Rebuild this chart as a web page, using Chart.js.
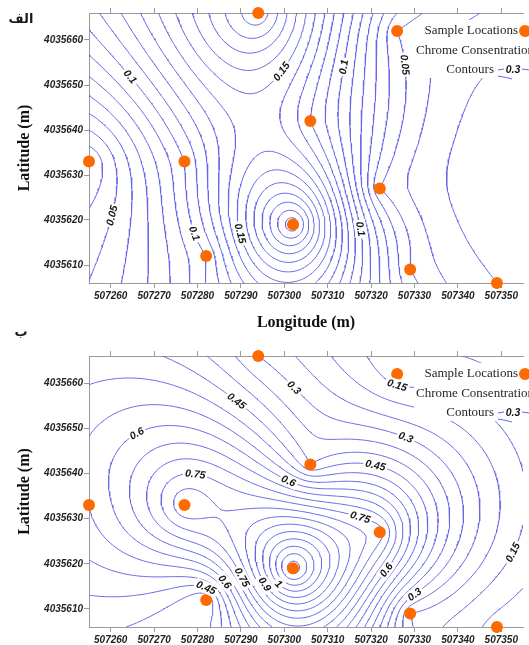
<!DOCTYPE html>
<html>
<head>
<meta charset="utf-8">
<script src="https://cdn.jsdelivr.net/npm/chart.js@4.4.1/dist/chart.umd.min.js"></script>
<style>
  html, body { margin: 0; padding: 0; background: #fff; }
  body { width: 529px; height: 645px; position: relative; overflow: hidden; }
  canvas { position: absolute; left: 0; }
  #chartA { top: 0; }
  #chartB { top: 320px; }
</style>
</head>
<body>
<canvas id="chartA" width="529" height="335"></canvas>
<canvas id="chartB" width="529" height="325"></canvas>
<script>
// sample locations (UTM, metres)
const sampleX = [507294, 507326, 507306, 507255, 507277, 507322, 507302, 507282, 507329, 507349];
const sampleY = [4035666, 4035662, 4035642, 4035633, 4035633, 4035627, 4035619, 4035612, 4035609, 4035606];

// chrome concentration at each sample, panel "الف" and panel "ب"
const chromeA = [0.2, 0.05, 0.12, 0.03, 0.1, 0.05, 0.22, 0.1, 0.05, 0.03];
const chromeB = [0.3, 0.12, 0.4, 0.55, 0.85, 0.78, 1.2, 0.35, 0.2, 0.08];

// contour levels
const levelsA = [0.02, 0.03, 0.04, 0.05, 0.06, 0.07, 0.08, 0.09, 0.1, 0.11, 0.12, 0.13,
  0.14, 0.15, 0.16, 0.17, 0.18, 0.19, 0.2, 0.21, 0.22, 0.23, 0.24, 0.25];
const levelsB = [0.05, 0.1, 0.15, 0.2, 0.25, 0.3, 0.35, 0.4, 0.45, 0.5, 0.55, 0.6, 0.65,
  0.7, 0.75, 0.8, 0.85, 0.9, 0.95, 1, 1.05, 1.1, 1.15, 1.2, 1.25, 1.3];

// labelled contours (text + rough place on the map)
const labelsA = [
  { text: "0.1", x: 507265.9, y: 4035652.9 },
  { text: "0.15", x: 507297.3, y: 4035654.4 },
  { text: "0.1", x: 507311.1, y: 4035654.4 },
  { text: "0.05", x: 507325, y: 4035654 },
  { text: "0.05", x: 507263.9, y: 4035620 },
  { text: "0.1", x: 507279.5, y: 4035617.3 },
  { text: "0.15", x: 507291, y: 4035617.3 },
  { text: "0.1", x: 507312.5, y: 4035617.1 },
];
const labelsB = [
  { text: "0.45", x: 507287.7, y: 4035654.4 },
  { text: "0.3", x: 507298, y: 4035655.1 },
  { text: "0.15", x: 507325, y: 4035656.7 },
  { text: "0.6", x: 507265.7, y: 4035648.9 },
  { text: "0.75", x: 507279.7, y: 4035640 },
  { text: "0.3", x: 507326.7, y: 4035644.7 },
  { text: "0.45", x: 507320.3, y: 4035638.4 },
  { text: "0.6", x: 507299.5, y: 4035635.1 },
  { text: "0.45", x: 507282.4, y: 4035616.2 },
  { text: "0.6", x: 507287.7, y: 4035617.1 },
  { text: "0.75", x: 507292, y: 4035617.8 },
  { text: "0.9", x: 507296.5, y: 4035615.8 },
  { text: "1", x: 507299, y: 4035615.6 },
  { text: "0.75", x: 507317, y: 4035628.9 },
  { text: "0.6", x: 507323, y: 4035619.1 },
  { text: "0.3", x: 507328.4, y: 4035615.1 },
  { text: "0.15", x: 507348.7, y: 4035624.7 },
];

const xTicks = [507260, 507270, 507280, 507290, 507300, 507310, 507320, 507330, 507340, 507350];
const yTicks = [4035610, 4035620, 4035630, 4035640, 4035650, 4035660];

const X_MIN = 507255, X_MAX = 507355, Y_MIN = 4035606, Y_MAX = 4035666;
const LINE_BLUE = "rgb(104,104,232)";
const ORANGE = "#ff6a00";
const AXIS_GREY = "#9a9a9a";

// ordinary kriging, linear variogram (surfer default)
function fitField(xs, ys, zs) {
  const n = xs.length, m = n + 1;
  const A = [];
  for (let i = 0; i < m; i++) A.push(new Array(m + 1).fill(0));
  for (let i = 0; i < n; i++) {
    for (let j = 0; j < n; j++) A[i][j] = Math.hypot(xs[i] - xs[j], ys[i] - ys[j]);
    A[i][n] = 1;
    A[n][i] = 1;
    A[i][m] = zs[i];
  }
  for (let c = 0; c < m; c++) {
    let p = c;
    for (let r = c + 1; r < m; r++) if (Math.abs(A[r][c]) > Math.abs(A[p][c])) p = r;
    [A[c], A[p]] = [A[p], A[c]];
    for (let r = 0; r < m; r++) {
      if (r === c) continue;
      const f = A[r][c] / A[c][c];
      for (let k = c; k <= m; k++) A[r][k] -= f * A[c][k];
    }
  }
  const w = A.map((row, i) => row[m] / row[i]);
  return (x, y) => {
    let s = w[n];
    for (let i = 0; i < n; i++) s += w[i] * Math.hypot(x - xs[i], y - ys[i]);
    return s;
  };
}

const NX = 201, NY = 121;
const DX = (X_MAX - X_MIN) / (NX - 1), DY = (Y_MAX - Y_MIN) / (NY - 1);

function buildGrid(values) {
  const f = fitField(sampleX, sampleY, values);
  const g = new Float64Array(NX * NY);
  for (let j = 0; j < NY; j++)
    for (let i = 0; i < NX; i++) g[j * NX + i] = f(X_MIN + i * DX, Y_MIN + j * DY);
  return g;
}

// marching squares, segments chained into polylines
function contour(g, level) {
  const pt = {};
  const segs = [];
  function edge(type, i, j) {
    const key = type + i + "_" + j;
    if (!(key in pt)) {
      let a, b, xa, ya, xb, yb;
      if (type === "h") {
        a = g[j * NX + i]; b = g[j * NX + i + 1];
        xa = X_MIN + i * DX; xb = xa + DX; ya = yb = Y_MIN + j * DY;
      } else {
        a = g[j * NX + i]; b = g[(j + 1) * NX + i];
        xa = xb = X_MIN + i * DX; ya = Y_MIN + j * DY; yb = ya + DY;
      }
      const t = (level - a) / (b - a);
      pt[key] = [xa + t * (xb - xa), ya + t * (yb - ya)];
    }
    return key;
  }
  for (let j = 0; j < NY - 1; j++) {
    for (let i = 0; i < NX - 1; i++) {
      const bl = g[j * NX + i], br = g[j * NX + i + 1];
      const tr = g[(j + 1) * NX + i + 1], tl = g[(j + 1) * NX + i];
      let c = 0;
      if (bl > level) c |= 1;
      if (br > level) c |= 2;
      if (tr > level) c |= 4;
      if (tl > level) c |= 8;
      if (c === 0 || c === 15) continue;
      const B = () => edge("h", i, j), T = () => edge("h", i, j + 1);
      const L = () => edge("v", i, j), R = () => edge("v", i + 1, j);
      const mid = (bl + br + tr + tl) / 4 > level;
      switch (c) {
        case 1: case 14: segs.push([L(), B()]); break;
        case 2: case 13: segs.push([B(), R()]); break;
        case 3: case 12: segs.push([L(), R()]); break;
        case 4: case 11: segs.push([R(), T()]); break;
        case 6: case 9: segs.push([B(), T()]); break;
        case 7: case 8: segs.push([L(), T()]); break;
        case 5:
          if (mid) { segs.push([L(), T()]); segs.push([B(), R()]); }
          else { segs.push([L(), B()]); segs.push([R(), T()]); }
          break;
        case 10:
          if (mid) { segs.push([L(), B()]); segs.push([R(), T()]); }
          else { segs.push([L(), T()]); segs.push([B(), R()]); }
          break;
      }
    }
  }
  const byKey = {};
  segs.forEach((s, k) => {
    (byKey[s[0]] = byKey[s[0]] || []).push(k);
    (byKey[s[1]] = byKey[s[1]] || []).push(k);
  });
  const used = new Array(segs.length).fill(false);
  const lines = [];
  function extend(chain) {
    for (;;) {
      const last = chain[chain.length - 1];
      const next = (byKey[last] || []).find((k) => !used[k]);
      if (next === undefined) break;
      used[next] = true;
      const s = segs[next];
      chain.push(s[0] === last ? s[1] : s[0]);
    }
  }
  for (let k = 0; k < segs.length; k++) {
    if (used[k]) continue;
    used[k] = true;
    const chain = [segs[k][0], segs[k][1]];
    extend(chain);
    chain.reverse();
    extend(chain);
    lines.push(chain.map((key) => pt[key]));
  }
  return lines;
}

function overlayPlugin(labels, linesByLevel, levels, panelText, panelY) {
  return {
    id: "overlay",
    afterDatasetsDraw(chart) {
      const { ctx, chartArea } = chart;
      const sx = chart.scales.x, sy = chart.scales.y;
      ctx.save();
      // contour labels
      ctx.font = 'italic bold 10.5px "Liberation Sans", Arial, sans-serif';
      ctx.textAlign = "center";
      ctx.textBaseline = "middle";
      labels.forEach((lab) => {
        const v = parseFloat(lab.text);
        const li = levels.findIndex((l) => Math.abs(l - v) < 1e-9);
        if (li < 0) return;
        const ax = sx.getPixelForValue(lab.x), ay = sy.getPixelForValue(lab.y);
        let best = null, bd = Infinity;
        linesByLevel[li].forEach((line) => {
          line.forEach((p, idx) => {
            const px = sx.getPixelForValue(p[0]), py = sy.getPixelForValue(p[1]);
            const d = (px - ax) ** 2 + (py - ay) ** 2;
            if (d < bd) { bd = d; best = { line, idx, px, py }; }
          });
        });
        if (!best || bd > 900) return;
        const a = best.line[Math.max(0, best.idx - 4)];
        const b = best.line[Math.min(best.line.length - 1, best.idx + 4)];
        let ang = Math.atan2(sy.getPixelForValue(b[1]) - sy.getPixelForValue(a[1]),
          sx.getPixelForValue(b[0]) - sx.getPixelForValue(a[0]));
        if (ang > Math.PI / 2) ang -= Math.PI;
        if (ang < -Math.PI / 2) ang += Math.PI;
        const w = ctx.measureText(lab.text).width;
        ctx.save();
        ctx.translate(best.px, best.py);
        ctx.rotate(ang);
        ctx.fillStyle = "#fff";
        ctx.fillRect(-w / 2 - 2, -6, w + 4, 12);
        ctx.fillStyle = "#151515";
        ctx.fillText(lab.text, 0, 0.5);
        ctx.restore();
      });

      // legend block, top right
      const top = chartArea.top;
      ctx.fillStyle = "#fff";
      ctx.fillRect(414, top + 7, 115, 58);
      ctx.fillStyle = "#262626";
      ctx.font = '13px "Liberation Serif", "Times New Roman", serif';
      ctx.textBaseline = "middle";
      ctx.textAlign = "right";
      ctx.fillText("Sample Locations", 518, top + 18);
      ctx.textAlign = "left";
      ctx.fillText("Chrome Consentration", 416, top + 38);
      ctx.textAlign = "right";
      ctx.fillText("Contours", 494, top + 57);
      ctx.fillStyle = ORANGE;
      ctx.beginPath();
      ctx.arc(525, top + 18, 6, 0, Math.PI * 2);
      ctx.fill();
      ctx.strokeStyle = LINE_BLUE;
      ctx.lineWidth = 1;
      ctx.beginPath();
      ctx.moveTo(498, top + 57); ctx.lineTo(504, top + 56);
      ctx.moveTo(522, top + 56); ctx.lineTo(529, top + 57);
      ctx.moveTo(498, top + 63); ctx.quadraticCurveTo(505, top + 64, 512, top + 66);
      ctx.stroke();
      ctx.fillStyle = "#151515";
      ctx.font = 'italic bold 10.5px "Liberation Sans", Arial, sans-serif';
      ctx.textAlign = "center";
      ctx.fillText("0.3", 513, top + 57);

      // panel letter
      ctx.fillStyle = "#1a1a1a";
      ctx.font = 'bold 13px "DejaVu Sans", sans-serif';
      ctx.textAlign = "center";
      ctx.fillText(panelText, 21, panelY);
      ctx.restore();
    },
  };
}

function makeChart(id, values, levels, labels, topGap, bottomGap, showXTitle, panelText, panelY) {
  const grid = buildGrid(values);
  const linesByLevel = levels.map((l) => contour(grid, l));
  const datasets = [{
    data: sampleX.map((x, i) => ({ x, y: sampleY[i] })),
    pointRadius: 6,
    pointBackgroundColor: ORANGE,
    pointBorderWidth: 0,
    showLine: false,
    clip: false,
  }];
  linesByLevel.forEach((lines) => {
    lines.forEach((line) => {
      datasets.push({
        data: line.map((p) => ({ x: p[0], y: p[1] })),
        showLine: true,
        pointRadius: 0,
        borderColor: LINE_BLUE,
        borderWidth: 1,
        tension: 0,
        fill: false,
      });
    });
  });

  const tickFont = { family: '"Liberation Sans", Arial, sans-serif', size: 10, style: "italic", weight: "bold" };
  const titleFont = { family: '"Liberation Serif", "Times New Roman", serif', size: 16, weight: "bold", lineHeight: 1 };
  const xBase = {
    type: "linear",
    min: X_MIN,
    max: X_MAX,
    afterBuildTicks: (axis) => { axis.ticks = xTicks.map((value) => ({ value })); },
    grid: { drawOnChartArea: false, drawTicks: true, tickLength: 5, color: AXIS_GREY },
    border: { display: true, color: AXIS_GREY, width: 1 },
  };

  return new Chart(document.getElementById(id), {
    type: "scatter",
    data: { datasets },
    options: {
      responsive: false,
      animation: false,
      events: [],
      layout: { padding: 0 },
      plugins: { legend: { display: false }, tooltip: { enabled: false } },
      scales: {
        x: {
          ...xBase,
          position: "bottom",
          ticks: { autoSkip: false, maxRotation: 0, padding: 2, color: "#222", font: tickFont, callback: (v) => String(v) },
          title: { display: showXTitle, text: "Longitude (m)", color: "#111", font: titleFont, padding: { top: 0, bottom: 4 } },
          afterFit: (axis) => { axis.height = bottomGap; },
        },
        x2: {
          ...xBase,
          position: "top",
          ticks: { display: false },
          afterFit: (axis) => { axis.height = topGap; },
        },
        y: {
          type: "linear",
          position: "left",
          min: Y_MIN,
          max: Y_MAX,
          afterBuildTicks: (axis) => { axis.ticks = yTicks.map((value) => ({ value })); },
          grid: { drawOnChartArea: false, drawTicks: true, tickLength: 5, color: AXIS_GREY },
          border: { display: true, color: AXIS_GREY, width: 1 },
          ticks: { autoSkip: false, padding: 1, color: "#222", font: tickFont, callback: (v) => String(v) },
          title: { display: true, text: "Latitude (m)", color: "#111", font: titleFont, padding: { top: 17, bottom: 0 } },
          afterFit: (axis) => { axis.width = 89; },
        },
      },
    },
    plugins: [overlayPlugin(labels, linesByLevel, levels, panelText, panelY)],
  });
}

makeChart("chartA", chromeA, levelsA, labelsA, 13, 52, true, "الف", 20);
makeChart("chartB", chromeB, levelsB, labelsB, 36, 18, false, "ب", 13);
</script>
</body>
</html>
